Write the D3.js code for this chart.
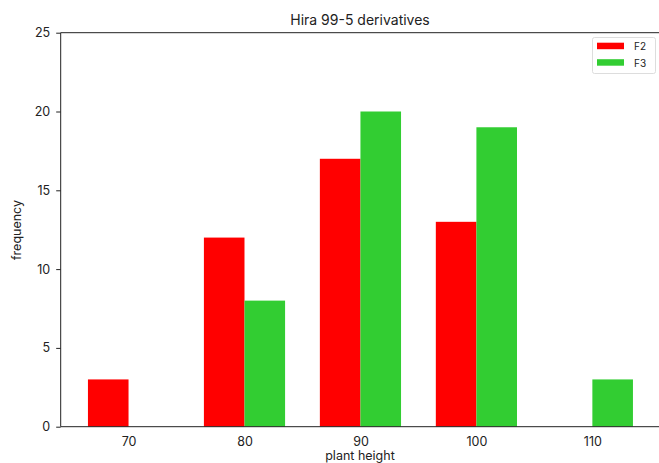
<!DOCTYPE html>
<html>
<head>
<meta charset="utf-8">
<script src="https://cdn.jsdelivr.net/npm/d3@7"></script>
<style>
  body { margin: 0; background: #fff; }
  text { font-family: "Inter", "DejaVu Sans", sans-serif; fill: #222; }
</style>
</head>
<body>
<svg id="chart" width="659" height="463"></svg>
<script>
// plant height bins and frequencies
const heights = [70, 80, 90, 100, 110]
const f2 = [3, 12, 17, 13, 0]
const f3 = [0, 8, 20, 19, 3]
const seriesNames = ['F2', 'F3']
const colors = ['#ff0000', '#32cd32']
const yTicks = [0, 5, 10, 15, 20, 25]
const barWidth = 3.5

const svg = d3.select('#chart')
const plot = { left: 60.7, right: 660.2, top: 32.7, bottom: 426.7 }

const x = d3.scaleLinear().domain([64.15, 115.85]).range([plot.left, plot.right])
const y = d3.scaleLinear().domain([0, 25]).range([plot.bottom, plot.top])

// bars: F2 to the left of the tick, F3 to the right
const series = [f2, f3]
series.forEach((vals, si) => {
  svg.append('g').selectAll('rect')
    .data(heights.map((h, i) => ({ h, v: vals[i] })))
    .enter().append('rect')
    .attr('x', d => x(si === 0 ? d.h - barWidth : d.h))
    .attr('width', d => x(d.h + barWidth) - x(d.h))
    .attr('y', d => y(d.v))
    .attr('height', d => y(0) - y(d.v))
    .attr('fill', colors[si])
})

// axes
const xAxis = svg.append('g')
  .attr('transform', `translate(0,${plot.bottom})`)
  .call(d3.axisBottom(x).tickValues(heights).tickSize(0).tickPadding(10))
xAxis.select('.domain').remove()
xAxis.selectAll('text').attr('font-size', 12.5).style('font-family', 'Inter, sans-serif')

const yAxis = svg.append('g')
  .attr('transform', `translate(${plot.left},0)`)
  .call(d3.axisLeft(y).tickValues(yTicks).tickSize(4.5).tickPadding(6))
yAxis.select('.domain').remove()
yAxis.selectAll('text').attr('font-size', 12.5).style('font-family', 'Inter, sans-serif')
yAxis.selectAll('line').attr('stroke', '#222')

// spines (right side is cut off by the image edge)
svg.append('line').attr('x1', plot.left).attr('x2', plot.left).attr('y1', plot.top).attr('y2', plot.bottom)
  .attr('stroke', '#222').attr('stroke-width', 1)
svg.append('line').attr('x1', plot.left).attr('x2', 659).attr('y1', plot.bottom).attr('y2', plot.bottom)
  .attr('stroke', '#222').attr('stroke-width', 1)
svg.append('line').attr('x1', plot.left).attr('x2', 659).attr('y1', plot.top).attr('y2', plot.top)
  .attr('stroke', '#222').attr('stroke-width', 1)

// title and labels
svg.append('text').attr('x', 360).attr('y', 25).attr('text-anchor', 'middle')
  .attr('font-size', 14).text('Hira 99-5 derivatives')
svg.append('text').attr('x', 360).attr('y', 460).attr('text-anchor', 'middle')
  .attr('font-size', 12.5).text('plant height')
svg.append('text').attr('transform', 'translate(21,230) rotate(-90)').attr('text-anchor', 'middle')
  .attr('font-size', 12.5).text('frequency')

// legend
const lg = svg.append('g')
lg.append('rect').attr('x', 592.5).attr('y', 37.5).attr('width', 63).attr('height', 36)
  .attr('rx', 2).attr('fill', '#fff').attr('stroke', '#ddd')
seriesNames.forEach((name, i) => {
  lg.append('rect').attr('x', 597).attr('y', 42.7 + i * 16.5).attr('width', 27).attr('height', 6.5)
    .attr('fill', colors[i])
  lg.append('text').attr('x', 634).attr('y', 50 + i * 16.5).attr('font-size', 10).text(name)
})
</script>
</body>
</html>
